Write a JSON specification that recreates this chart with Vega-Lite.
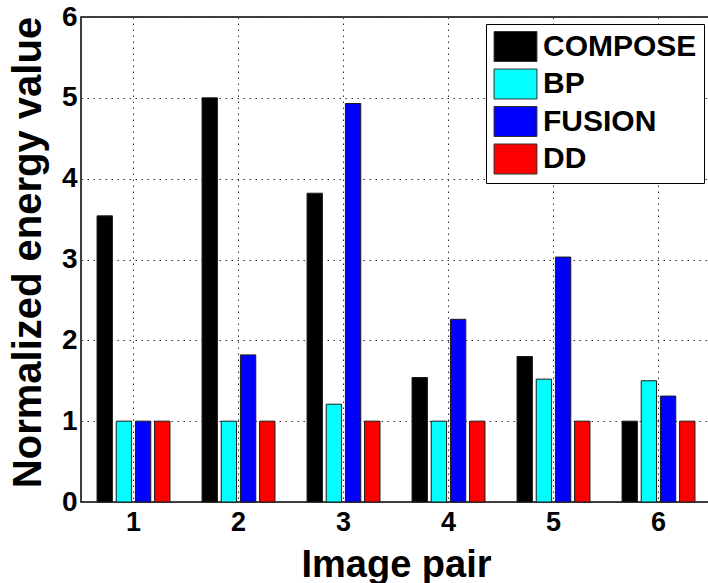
{
  "$schema": "https://vega.github.io/schema/vega-lite/v6.json",
  "width": 630,
  "height": 485,
  "autosize": {"type": "none"},
  "padding": {"left": 81, "top": 17, "right": 0, "bottom": 81},
  "config": {
    "font": "Liberation Sans",
    "view": {"stroke": "black", "strokeWidth": 1.5},
    "axis": {
      "domain": false,
      "ticks": false,
      "grid": true,
      "gridColor": "#333333",
      "gridDash": [1.5, 4.5],
      "gridWidth": 1,
      "labelFont": "Liberation Sans",
      "labelFontWeight": "bold",
      "labelFontSize": 28,
      "labelColor": "black",
      "titleFont": "Liberation Sans",
      "titleFontWeight": "bold",
      "titleFontSize": 40,
      "titleColor": "black"
    }
  },
  "data": {
    "values": [
      {"pair": "1", "method": "COMPOSE", "value": 3.54},
      {"pair": "1", "method": "BP", "value": 1.0},
      {"pair": "1", "method": "FUSION", "value": 1.0},
      {"pair": "1", "method": "DD", "value": 1.0},
      {"pair": "2", "method": "COMPOSE", "value": 5.0},
      {"pair": "2", "method": "BP", "value": 1.0},
      {"pair": "2", "method": "FUSION", "value": 1.82},
      {"pair": "2", "method": "DD", "value": 1.0},
      {"pair": "3", "method": "COMPOSE", "value": 3.82},
      {"pair": "3", "method": "BP", "value": 1.21},
      {"pair": "3", "method": "FUSION", "value": 4.93},
      {"pair": "3", "method": "DD", "value": 1.0},
      {"pair": "4", "method": "COMPOSE", "value": 1.54},
      {"pair": "4", "method": "BP", "value": 1.0},
      {"pair": "4", "method": "FUSION", "value": 2.26},
      {"pair": "4", "method": "DD", "value": 1.0},
      {"pair": "5", "method": "COMPOSE", "value": 1.8},
      {"pair": "5", "method": "BP", "value": 1.52},
      {"pair": "5", "method": "FUSION", "value": 3.03},
      {"pair": "5", "method": "DD", "value": 1.0},
      {"pair": "6", "method": "COMPOSE", "value": 1.0},
      {"pair": "6", "method": "BP", "value": 1.5},
      {"pair": "6", "method": "FUSION", "value": 1.31},
      {"pair": "6", "method": "DD", "value": 1.0}
    ]
  },
  "mark": {"type": "bar", "stroke": "#1a1a1a", "strokeWidth": 1},
  "encoding": {
    "x": {
      "field": "pair",
      "type": "nominal",
      "sort": ["1", "2", "3", "4", "5", "6"],
      "scale": {"paddingInner": 0.269, "paddingOuter": 0.1345},
      "axis": {
        "title": "Image pair",
        "labelAngle": 0,
        "labelFontSize": 27,
        "labelPadding": 7,
        "bandPosition": 0.5,
        "titleFontSize": 38,
        "titleY": 74,
        "titleBaseline": "alphabetic"
      }
    },
    "xOffset": {
      "field": "method",
      "type": "nominal",
      "sort": ["COMPOSE", "BP", "FUSION", "DD"],
      "scale": {"paddingInner": 0.2, "paddingOuter": 0.1}
    },
    "y": {
      "field": "value",
      "type": "quantitative",
      "scale": {"domain": [0, 6], "nice": false},
      "axis": {
        "title": "Normalized energy value",
        "values": [0, 1, 2, 3, 4, 5, 6],
        "labelPadding": 4,
        "titleX": -41,
        "titleY": 235,
        "titleBaseline": "alphabetic"
      }
    },
    "color": {
      "field": "method",
      "type": "nominal",
      "sort": ["COMPOSE", "BP", "FUSION", "DD"],
      "scale": {
        "domain": ["COMPOSE", "BP", "FUSION", "DD"],
        "range": ["#000000", "#00ffff", "#0000ff", "#ff0000"]
      },
      "legend": {
        "title": null,
        "orient": "none",
        "legendX": 405,
        "legendY": 7,
        "padding": 7,
        "fillColor": "white",
        "strokeColor": "black",
        "symbolType": "M-1.43,-1L1.43,-1L1.43,1L-1.43,1Z",
        "symbolSize": 900,
        "symbolStrokeColor": "#333333",
        "symbolStrokeWidth": 1,
        "symbolOpacity": 1,
        "rowPadding": 2.5,
        "labelFont": "Liberation Sans",
        "labelFontWeight": "bold",
        "labelFontSize": 30,
        "labelColor": "black",
        "labelOffset": 12,
        "symbolOffset": 7
      }
    }
  }
}
